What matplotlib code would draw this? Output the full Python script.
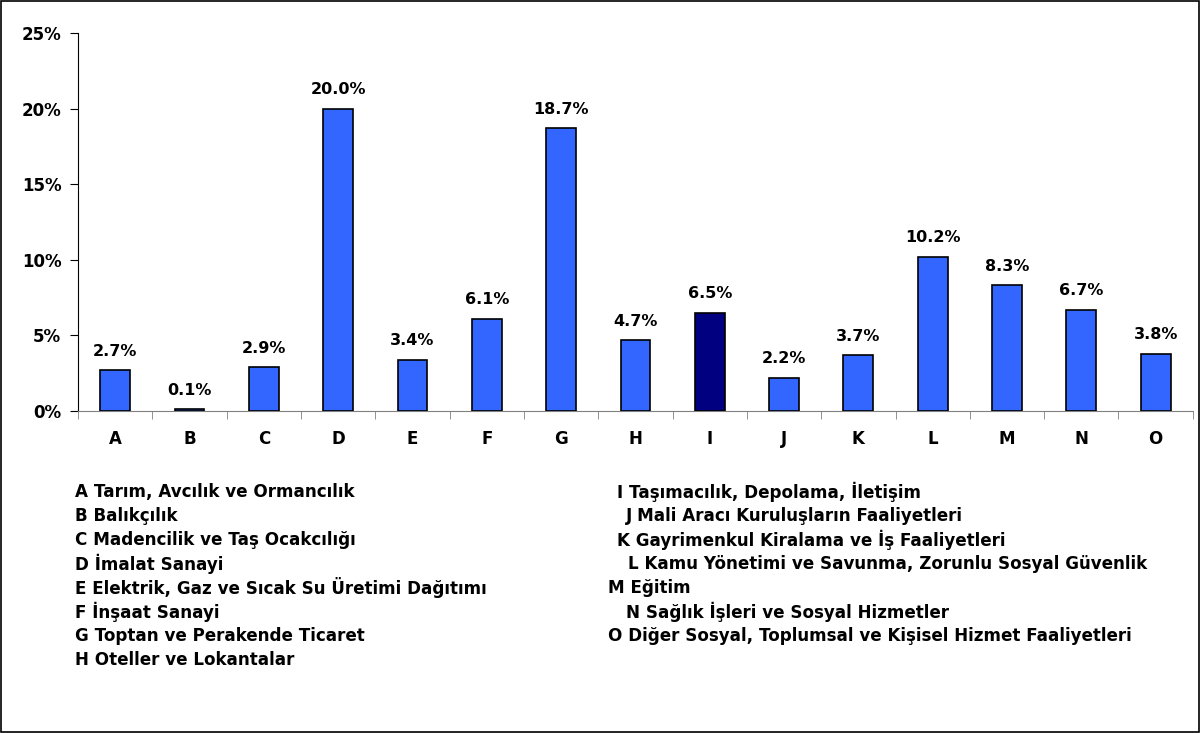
import numpy as np
import matplotlib.pyplot as plt
from matplotlib.ticker import PercentFormatter

plt.rcParams['font.family'] = ['DejaVu Sans']
plt.rcParams['font.weight'] = 'bold'

categories = ['A', 'B', 'C', 'D', 'E', 'F', 'G', 'H', 'I', 'J', 'K', 'L', 'M', 'N', 'O']
values = [2.7, 0.1, 2.9, 20.0, 3.4, 6.1, 18.7, 4.7, 6.5, 2.2, 3.7, 10.2, 8.3, 6.7, 3.8]
highlight = 'I'

legend_left = [
    'A Tarım, Avcılık ve Ormancılık',
    'B Balıkçılık',
    'C Madencilik ve Taş Ocakcılığı',
    'D İmalat Sanayi',
    'E Elektrik, Gaz ve Sıcak Su Üretimi Dağıtımı',
    'F İnşaat Sanayi',
    'G Toptan ve Perakende Ticaret',
    'H Oteller ve Lokantalar',
]
legend_right = [
    'I Taşımacılık, Depolama, İletişim',
    'J Mali Aracı Kuruluşların Faaliyetleri',
    'K Gayrimenkul Kiralama ve İş Faaliyetleri',
    'L Kamu Yönetimi ve Savunma, Zorunlu Sosyal Güvenlik',
    'M Eğitim',
    'N Sağlık İşleri ve Sosyal Hizmetler',
    'O Diğer Sosyal, Toplumsal ve Kişisel Hizmet Faaliyetleri',
]
# small indents seen in the original right column (pixels)
right_indent = [9, 18, 9, 20, 0, 18, 0]

fig = plt.figure(figsize=(12, 7.33), dpi=100)
ax = fig.add_axes([0.065, 0.4393, 0.929, 0.5157])

x = np.arange(len(categories))
colors = ['#000080' if c == highlight else '#3366FF' for c in categories]
ax.bar(x, values, width=0.4, color=colors, edgecolor='black', linewidth=1.2, zorder=3)

for xi, v in zip(x, values):
    ax.text(xi, v + 0.75, f'{v:.1f}%', ha='center', va='bottom', fontsize=11.5, fontweight='bold')

ax.set_xlim(-0.5, len(categories) - 0.5)
ax.set_ylim(0, 25)
ax.set_yticks([0, 5, 10, 15, 20, 25])
ax.yaxis.set_major_formatter(PercentFormatter(decimals=0))
ax.set_xticks(x)
ax.set_xticklabels(categories)
ax.set_xticks(np.arange(-0.5, len(categories)), minor=True)
ax.tick_params(axis='x', which='major', length=0, pad=14, labelsize=12)
ax.tick_params(axis='x', which='minor', length=6, direction='out', color='#808080')
ax.tick_params(axis='y', length=6, direction='out', labelsize=12, pad=6)
for lab in ax.get_xticklabels() + ax.get_yticklabels():
    lab.set_fontweight('bold')

ax.spines['top'].set_visible(False)
ax.spines['right'].set_visible(False)
ax.spines['bottom'].set_color('#808080')
ax.spines['left'].set_color('black')

# legend text below the chart
y0 = 1 - 492 / 733
dy = 24 / 733
for i, t in enumerate(legend_left):
    fig.text(75 / 1200, y0 - i * dy, t, fontsize=12.1, fontweight='bold', va='center', ha='left')
for i, (t, ind) in enumerate(zip(legend_right, right_indent)):
    fig.text((608 + ind) / 1200, y0 - i * dy, t, fontsize=12.1, fontweight='bold', va='center', ha='left')

# border around whole figure
fig.patches.append(plt.Rectangle((0.001, 0.001), 0.998, 0.998, transform=fig.transFigure,
                                 fill=False, edgecolor='black', linewidth=1.2))

fig.savefig('out.png', dpi=100)
